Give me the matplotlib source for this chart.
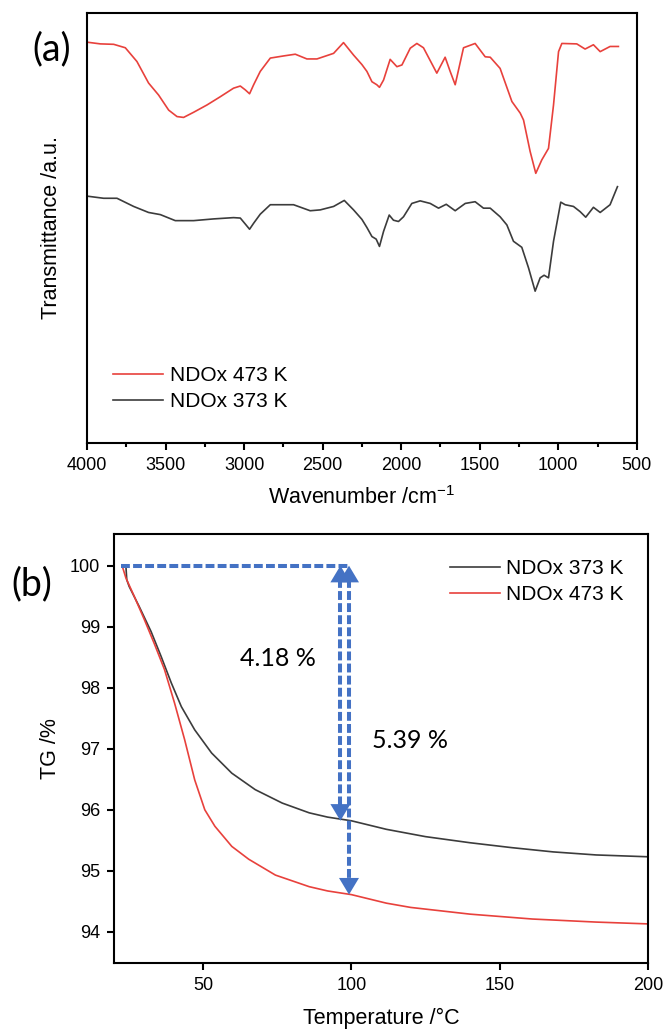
import matplotlib
matplotlib.use("Agg")
import matplotlib.pyplot as plt

plt.rcParams['font.family'] = ['Liberation Sans', 'DejaVu Sans']
plt.rcParams['mathtext.fontset'] = 'custom'
plt.rcParams['mathtext.rm'] = 'Liberation Sans'
plt.rcParams['mathtext.it'] = 'Liberation Sans'

RED = '#e8413c'
BLACK = '#3c3c3c'
BLUE = '#4472c4'

# FTIR spectra (wavenumber in cm-1, transmittance in arbitrary units)
wn_473 = [4000, 3915, 3830, 3756, 3682, 3608, 3544, 3480, 3427, 3385, 3321, 3236,
          3152, 3067, 3024, 2992, 2965, 2939, 2897, 2833, 2748, 2674, 2600, 2536,
          2430, 2367, 2303, 2250, 2218, 2186, 2155, 2138, 2112, 2070, 2027, 1995,
          1942, 1900, 1858, 1773, 1720, 1688, 1656, 1603, 1529, 1465, 1433, 1370,
          1295, 1242, 1221, 1179, 1143, 1105, 1062, 1030, 998, 977, 882, 829, 776,
          733, 670, 617]
tr_473 = [93.2, 92.8, 92.7, 91.9, 88.7, 83.7, 80.9, 77.4, 75.9, 75.7, 76.9, 78.6,
          80.5, 82.5, 83.0, 82.1, 81.2, 83.3, 86.4, 89.5, 90.0, 90.4, 89.3, 89.3,
          90.6, 93.1, 90.2, 88.0, 86.4, 84.0, 83.3, 82.7, 84.4, 89.2, 87.5, 87.9,
          91.8, 92.9, 91.9, 86.0, 89.7, 86.4, 83.3, 91.9, 92.9, 89.8, 89.7, 87.1,
          79.4, 76.7, 75.1, 67.8, 62.7, 65.8, 68.5, 78.6, 91.0, 92.9, 92.8, 91.6,
          92.6, 91.0, 92.2, 92.2]

wn_373 = [4000, 3894, 3809, 3703, 3608, 3533, 3438, 3321, 3194, 3067, 3024, 2992,
          2965, 2939, 2897, 2833, 2685, 2579, 2515, 2430, 2362, 2303, 2250, 2218,
          2186, 2159, 2138, 2112, 2076, 2049, 2017, 1985, 1932, 1879, 1815, 1762,
          1713, 1656, 1592, 1529, 1476, 1433, 1370, 1327, 1285, 1232, 1189, 1147,
          1115, 1090, 1062, 1030, 984, 956, 903, 861, 825, 776, 733, 670, 623]
tr_373 = [57.4, 56.9, 56.9, 55.0, 53.6, 53.1, 51.7, 51.7, 52.1, 52.4, 52.3, 50.9,
          49.7, 51.1, 53.2, 55.4, 55.4, 54.0, 54.2, 55.0, 56.4, 54.2, 52.0, 50.1,
          48.0, 47.4, 45.7, 49.2, 53.0, 51.8, 51.5, 52.6, 55.7, 56.3, 55.7, 54.6,
          55.5, 54.0, 55.7, 56.1, 54.6, 54.6, 52.6, 50.7, 46.9, 45.5, 40.7, 35.3,
          38.4, 39.0, 38.4, 46.9, 56.0, 55.4, 55.0, 53.8, 52.5, 54.8, 53.6, 55.4,
          59.6]

# TG curves (temperature in degC, mass in %)
t_373 = [24.0, 24.3, 25.1, 28.5, 32.5, 35.9, 39.3, 42.7, 47.2, 52.9, 59.7, 67.6,
         76.7, 85.8, 92, 100, 111.8, 125, 140, 154, 168, 182.5, 200]
tg_373 = [100.0, 99.77, 99.66, 99.33, 98.92, 98.51, 98.08, 97.69, 97.31, 96.93,
          96.6, 96.33, 96.11, 95.95, 95.88, 95.82, 95.68, 95.56, 95.46, 95.38,
          95.31, 95.26, 95.23]
t_473 = [22.8, 24.0, 26.8, 30.2, 33.6, 37.0, 40.4, 43.8, 47.2, 50.6, 54.0, 59.7,
         65.4, 74.4, 85.8, 92, 100, 111.8, 120, 140, 161, 182.5, 200]
tg_473 = [99.99, 99.8, 99.5, 99.12, 98.72, 98.3, 97.75, 97.15, 96.49, 96.0,
          95.73, 95.4, 95.19, 94.93, 94.74, 94.67, 94.61, 94.47, 94.4, 94.29,
          94.21, 94.16, 94.13]

loss_373 = 4.18
loss_473 = 5.39

fig = plt.figure(figsize=(6.64, 10.34), dpi=100)
ax1 = fig.add_axes([0.131, 0.5716, 0.828, 0.4159])
ax2 = fig.add_axes([0.1717, 0.0687, 0.8043, 0.4149])

for ax in (ax1, ax2):
    for s in ax.spines.values():
        s.set_linewidth(1.5)
    ax.tick_params(which='major', direction='out', length=5, width=1.5,
                   labelsize=13, pad=5)
    ax.tick_params(which='minor', direction='out', length=3, width=1.5)

# (a) FTIR
ax1.plot(wn_473, tr_473, color=RED, lw=1.2, label='NDOx 473 K')
ax1.plot(wn_373, tr_373, color=BLACK, lw=1.2, label='NDOx 373 K')
ax1.set_xlim(4000, 500)
ax1.set_ylim(0, 100)
ax1.set_xticks([4000, 3500, 3000, 2500, 2000, 1500, 1000, 500])
ax1.set_xticks(range(750, 4000, 500), minor=True)
ax1.set_yticks([])
ax1.set_xlabel('Wavenumber /cm$^{-1}$', fontsize=15.5)
ax1.set_ylabel('Transmittance /a.u.', fontsize=15.5)
ax1.xaxis.set_label_coords(0.5, -0.1)
ax1.yaxis.set_label_coords(-0.045, 0.5)
ax1.legend(loc='lower left', bbox_to_anchor=(0.014, 0.03), frameon=False,
           fontsize=15, handlelength=2.4, handletextpad=0.3, labelspacing=0.35)

# (b) TG
ax2.plot(t_373, tg_373, color=BLACK, lw=1.2, label='NDOx 373 K')
ax2.plot(t_473, tg_473, color=RED, lw=1.2, label='NDOx 473 K')
ax2.set_xlim(20, 200)
ax2.set_ylim(93.49, 100.52)
ax2.set_xticks([50, 100, 150, 200])
ax2.set_yticks([94, 95, 96, 97, 98, 99, 100])
ax2.set_xlabel('Temperature /°C', fontsize=15.5)
ax2.set_ylabel('TG /%', fontsize=15.5)
ax2.xaxis.set_label_coords(0.5, -0.105)
ax2.yaxis.set_label_coords(-0.1, 0.5)
ax2.legend(loc='upper right', bbox_to_anchor=(0.99, 0.985), frameon=False,
           fontsize=15, handlelength=2.4, handletextpad=0.3, labelspacing=0.35)

# mass-loss markers
x_a, x_b = 96.3, 99.2
ax2.plot([22.3, x_b + 0.3], [100, 100], color=BLUE, lw=2.9,
         linestyle=(0, (2.2, 0.8)), solid_capstyle='butt')
head = dict(arrowstyle='-|>,head_length=0.4,head_width=0.24', color=BLUE,
            lw=0, mutation_scale=30, shrinkA=0, shrinkB=0)
for x, loss in ((x_a, loss_373), (x_b, loss_473)):
    low = 100 - loss
    ax2.plot([x, x], [99.78, low + 0.2], color=BLUE, lw=2.9,
             linestyle=(0, (2.2, 0.8)))
    ax2.annotate('', xy=(x, low), xytext=(x, low + 0.25), arrowprops=head)
    ax2.annotate('', xy=(x, 100), xytext=(x, 99.75), arrowprops=head)

ax2.text(75.3, 98.48, f'{loss_373:.2f} %', fontsize=18, family='Lato',
         ha='center', va='center')
ax2.text(119.8, 97.13, f'{loss_473:.2f} %', fontsize=18, family='Lato',
         ha='center', va='center')

fig.text(0.078, 0.952, '(a)', fontsize=27, family='Lato', ha='center', va='center')
fig.text(0.048, 0.435, '(b)', fontsize=27, family='Lato', ha='center', va='center')

fig.savefig('out.png', dpi=100)
